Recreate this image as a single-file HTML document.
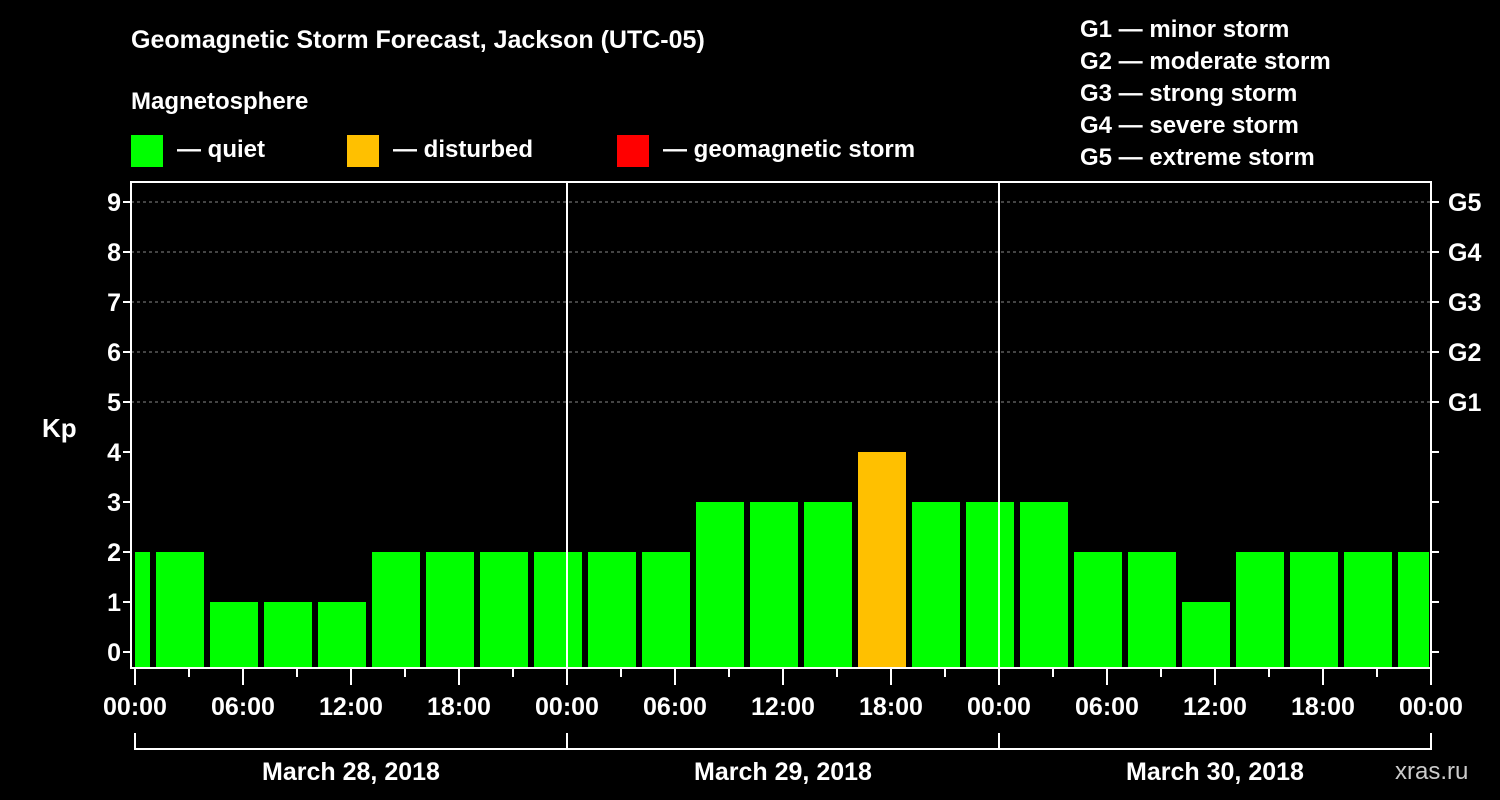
<!DOCTYPE html>
<html><head><meta charset="utf-8"><style>
body{margin:0;background:#000;}
svg{display:block;font-family:"Liberation Sans",Arial,sans-serif;font-weight:bold;}
</style></head><body>
<svg id="chart" width="1500" height="800" viewBox="0 0 1500 800">
<rect width="1500" height="800" fill="#000"/>
<text x="131" y="48" fill="#fff" font-size="25">Geomagnetic Storm Forecast, Jackson (UTC-05)</text>
<text x="131" y="109" fill="#fff" font-size="24">Magnetosphere</text>
<rect x="131" y="135" width="32" height="32" fill="#00ff00"/>
<text x="177" y="157" fill="#fff" font-size="24">— quiet</text>
<rect x="347" y="135" width="32" height="32" fill="#ffc000"/>
<text x="393" y="157" fill="#fff" font-size="24">— disturbed</text>
<rect x="617" y="135" width="32" height="32" fill="#ff0000"/>
<text x="663" y="157" fill="#fff" font-size="24">— geomagnetic storm</text>
<g fill="#fff" font-size="24">
<text x="1080" y="37">G1 — minor storm</text>
<text x="1080" y="69">G2 — moderate storm</text>
<text x="1080" y="101">G3 — strong storm</text>
<text x="1080" y="133">G4 — severe storm</text>
<text x="1080" y="165">G5 — extreme storm</text>
</g>
<text x="42" y="437" fill="#fff" font-size="26">Kp</text>
<text x="1395" y="779" fill="#ccc" font-size="24" font-weight="normal">xras.ru</text>
<g id="plot"></g>
</svg>
<script>
const kpValues=[2,2,1,1,1,2,2,2,2,2,2,3,3,3,4,3,3,3,2,2,1,2,2,2,2];
const startHour=-2; // first slot start (hours from first midnight)
const yTicks=[0,1,2,3,4,5,6,7,8,9];
const gLabels=["G1","G2","G3","G4","G5"];
const xTickLabels=["00:00","06:00","12:00","18:00","00:00","06:00","12:00","18:00","00:00","06:00","12:00","18:00","00:00"];
const dates=["March 28, 2018","March 29, 2018","March 30, 2018"];
const X0=135,PX_H=18,L=131,R=1431,T=182,B=668;
const x=h=>X0+h*PX_H;
const y=v=>652-v*50;
const NS="http://www.w3.org/2000/svg";
const g=document.getElementById('plot');
function el(t,a){const e=document.createElementNS(NS,t);for(const k in a)e.setAttribute(k,a[k]);g.appendChild(e);return e;}
// grid
[5,6,7,8,9].forEach(v=>{const e=el('line',{x1:L,x2:R,y1:y(v),y2:y(v),stroke:'#888','stroke-dasharray':'3,3','stroke-width':1});

});
// bars
kpValues.forEach((v,i)=>{let a=x(startHour+i*3)+3,b=x(startHour+i*3+3)-3;a=Math.max(a,X0);b=Math.min(b,1429);
const c=v>=5?'#ff0000':(v>=4?'#ffc000':'#00ff00');
const e=el('rect',{x:a,y:y(v),width:b-a,height:B-y(v),fill:c});

});
// day separators
[1,2].forEach(d=>{const e=el('line',{x1:x(d*24),x2:x(d*24),y1:T,y2:B,stroke:'#fff','stroke-width':2});

});
// frame
const fr=el('rect',{x:L,y:T,width:R-L,height:B-T,fill:'none',stroke:'#fff','stroke-width':2});


// y ticks
yTicks.forEach(v=>{
el('line',{x1:L-8,x2:L,y1:y(v),y2:y(v),stroke:'#fff','stroke-width':2});
el('line',{x1:R,x2:R+8,y1:y(v),y2:y(v),stroke:'#fff','stroke-width':2});
const t=el('text',{x:L-10,y:y(v)+9,fill:'#fff','font-size':25,'text-anchor':'end'});t.textContent=v;

});
gLabels.forEach((s,i)=>{const t=el('text',{x:1448,y:y(5+i)+9,fill:'#fff','font-size':25});t.textContent=s;

});
// x ticks
for(let h=0;h<=72;h+=3){const maj=h%6===0;el('line',{x1:x(h),x2:x(h),y1:B,y2:B+(maj?17:9),stroke:'#fff','stroke-width':2});}
xTickLabels.forEach((s,i)=>{const t=el('text',{x:x(i*6),y:715,fill:'#fff','font-size':25,'text-anchor':'middle'});t.textContent=s;

});
dates.forEach((s,i)=>{const a=x(i*24),b=x(i*24+24);
el('path',{d:`M${a} 733V749H${b}V733`,fill:'none',stroke:'#fff','stroke-width':2});
const t=el('text',{x:(a+b)/2,y:780,fill:'#fff','font-size':25,'text-anchor':'middle'});t.textContent=s;

});
</script>
</body></html>
